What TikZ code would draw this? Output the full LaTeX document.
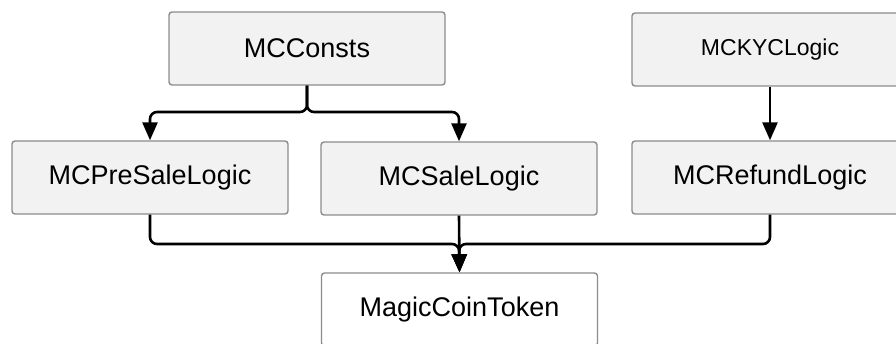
\documentclass[tikz,border=0pt]{standalone}
\usepackage{fontspec}
\setmainfont{Liberation Sans}
\usetikzlibrary{arrows.meta}
\definecolor{boxfill}{HTML}{F2F2F2}
\definecolor{boxline}{HTML}{8C8C8C}
\tikzset{
  mcbox/.style={draw=boxline, line width=1.4pt, fill=boxfill, rounded corners=3pt,
    minimum width=276pt, minimum height=73pt, inner sep=0pt,
    font=\fontsize{27}{32}\selectfont},
  mcwhite/.style={mcbox, fill=white},
  conn/.style={line width=2.6pt, rounded corners=7pt,
    -{Triangle[width=15pt,length=18pt]}}
}
\begin{document}
\begin{tikzpicture}[x=1pt,y=-1pt]
\useasboundingbox (0,0) rectangle (896,344);
\fill[white] (0,0) rectangle (896,344);
\node[mcbox] (cons) at (307,48.5) {MCConsts};
\node[mcbox, font=\fontsize{23}{28}\selectfont] (kyc) at (770,49.5) {MCKYCLogic};
\node[mcbox] (pre) at (150,177.5) {MCPreSaleLogic};
\node[mcbox] (sale) at (459,178.5) {MCSaleLogic};
\node[mcbox] (ref) at (770,177.5) {MCRefundLogic};
\node[mcwhite] (tok) at (459.5,309.5) {MagicCoinToken};
\coordinate (j1) at (307,112);
\coordinate (j2) at (459,244);
\draw[conn] (cons.south) -- (j1) -| (pre.north);
\draw[conn] (cons.south) -- (j1) -| (sale.north);
\draw[conn] (kyc.south) -- (ref.north);
\draw[conn] (pre.south) |- (j2) -- (tok.north);
\draw[conn] (sale.south) -- (tok.north);
\draw[conn] (ref.south) |- (j2) -- (tok.north);
\end{tikzpicture}
\end{document}
